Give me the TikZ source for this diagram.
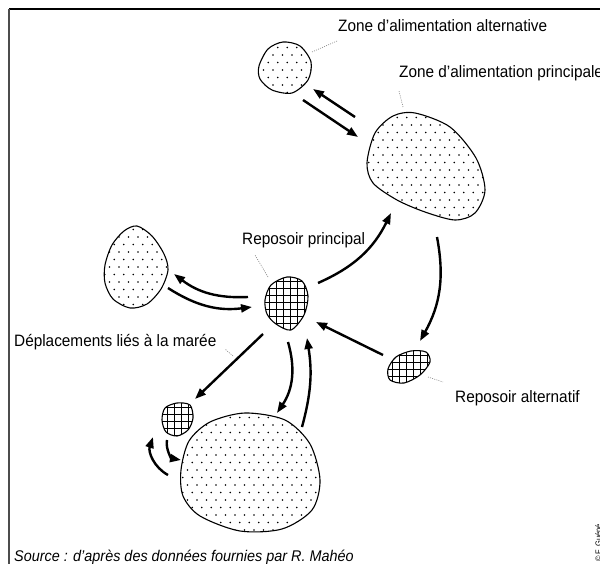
\documentclass[tikz,border=0pt]{standalone}
\usepackage{fontspec}
\setmainfont{Liberation Sans}[FakeStretch=0.93]
\usetikzlibrary{arrows.meta}
\tikzset{
  blob/.style={line width=1.1pt, line join=round},
  flow/.style={line width=2.4pt, -{Triangle[length=11pt,width=8pt]}},
  leader/.style={gray, line width=0.6pt, dash pattern=on 1pt off 1.2pt},
  lbl/.style={inner sep=0pt, anchor=base west, font=\fontsize{16.5}{19}\selectfont},
  gridline/.style={line width=0.9pt},
}
\newcommand{\dotblob}[3]{%
  \begin{scope}
    \clip plot[smooth cycle] coordinates {#1};
    \foreach \r in {0,...,17}{\foreach \c in {0,...,16}{
      \fill ({#2+\c*9.5+mod(\r,2)*4.75},{#3+\r*7.5}) circle[radius=0.9pt];}}
  \end{scope}
  \draw[blob] plot[smooth cycle] coordinates {#1};
}
\newcommand{\gridblob}[3]{%
  \begin{scope}
    \clip plot[smooth cycle] coordinates {#1};
    \foreach \k in {0,...,9}{
      \draw[gridline] ({#2+\k*7},#3) -- ({#2+\k*7},{#3+63});
      \draw[gridline] (#2,{#3+\k*7}) -- ({#2+63},{#3+\k*7});}
  \end{scope}
  \draw[blob] plot[smooth cycle] coordinates {#1};
}
\begin{document}
\begin{tikzpicture}[x=1pt,y=-1pt]
\useasboundingbox (0,0) rectangle (600,564);
% frame
\draw[line width=1.8pt] (9,9) -- (600,9);
\draw[line width=1.8pt, black!70] (9,9) -- (9,564);

% zones (dotted)
\dotblob{(259,66) (268,49) (283,42) (300,46) (311,62) (308,80) (292,93) (272,90) (260,79)}{254}{40}
\dotblob{(367,163) (375,133) (393,116) (415,113) (450,127) (476,158) (485,190) (475,213) (455,220) (425,212) (397,200) (373,183)}{364}{110}
\dotblob{(105,265) (112,245) (124,231) (137,226) (152,236) (164,254) (168,270) (161,289) (147,304) (130,308) (113,299) (105,283)}{100}{222}
\dotblob{(181,470) (189,441) (210,422) (245,413) (285,420) (310,444) (320,480) (312,510) (282,529) (240,531) (200,516) (183,496)}{178}{410}

% roosts (grid)
\gridblob{(265,300) (271,285) (287,277) (302,281) (308,296) (304,315) (291,330) (276,324) (267,314)}{262}{274}
\gridblob{(388,369) (396,357) (411,351) (426,352) (430,362) (420,375) (404,383) (390,380)}{385}{348}
\gridblob{(162,420) (165,408) (177,403) (190,405) (193,418) (188,430) (177,436) (166,432)}{160}{400}

% labels
\node[lbl] (lAlt) at (338,32) {Zone d'alimentation alternative};
\node[lbl] (lPri) at (399,78) {Zone d'alimentation principale};
\node[lbl] (lRep) at (242,245) {Reposoir principal};
\node[lbl] (lDep) at (14,346) {Déplacements liés à la marée};
\node[lbl] (lRal) at (455,402) {Reposoir alternatif};
\node[lbl, font=\itshape\fontsize{15.5}{18}\selectfont] (src) at (14,561) {Source : d'après des données fournies par R. Mahéo};
\node[inner sep=0pt, anchor=base west, rotate=90, font=\fontsize{8}{9}\selectfont] (copy) at (601,562) {© F. Guéné};

% leaders
\coordinate (k1a) at (312,52); \coordinate (k1b) at (337,41);
\coordinate (k2a) at (403,107); \coordinate (k2b) at (399,91);
\coordinate (k3a) at (268,277); \coordinate (k3b) at (255,255);
\coordinate (k4a) at (233,356); \coordinate (k4b) at (225,349);
\coordinate (k5a) at (428,377); \coordinate (k5b) at (443,382);
\draw[leader] (k1a) -- (k1b);
\draw[leader] (k2a) -- (k2b);
\draw[leader] (k3a) -- (k3b);
\draw[leader] (k4a) -- (k4b);
\draw[leader] (k5a) -- (k5b);

% arrows
\coordinate (a1s) at (355,117); \coordinate (a1e) at (313,89);
\coordinate (a2s) at (303,100); \coordinate (a2e) at (358,137);
\coordinate (a3s) at (318,283); \coordinate (a3e) at (391,213);
\coordinate (a4s) at (437,237); \coordinate (a4e) at (420,341);
\coordinate (a5s) at (383,355); \coordinate (a5e) at (316,322);
\coordinate (a6s) at (248,297); \coordinate (a6e) at (174,274);
\coordinate (a7s) at (168,288); \coordinate (a7e) at (252,307);
\coordinate (a8s) at (263,334); \coordinate (a8e) at (195,399);
\coordinate (a9s) at (288,342); \coordinate (a9e) at (277,413);
\coordinate (a10s) at (302,427); \coordinate (a10e) at (307,338);
\coordinate (a11s) at (168,475); \coordinate (a11e) at (153,437);
\coordinate (a12s) at (167,440); \coordinate (a12e) at (181,460);
\draw[flow] (a1s) -- (a1e);
\draw[flow] (a2s) -- (a2e);
\draw[flow] (a3s) to[bend right=20] (a3e);
\draw[flow] (a4s) to[bend left=20] (a4e);
\draw[flow] (a5s) -- (a5e);
\draw[flow] (a6s) to[bend left=20] (a6e);
\draw[flow] (a7s) to[bend right=20] (a7e);
\draw[flow] (a8s) -- (a8e);
\draw[flow] (a9s) to[bend left=25] (a9e);
\draw[flow] (a10s) to[bend right=12] (a10e);
\draw[flow] (a11s) to[bend left=40] (a11e);
\draw[flow] (a12s) to[bend right=45] (a12e);
\end{tikzpicture}
\end{document}
